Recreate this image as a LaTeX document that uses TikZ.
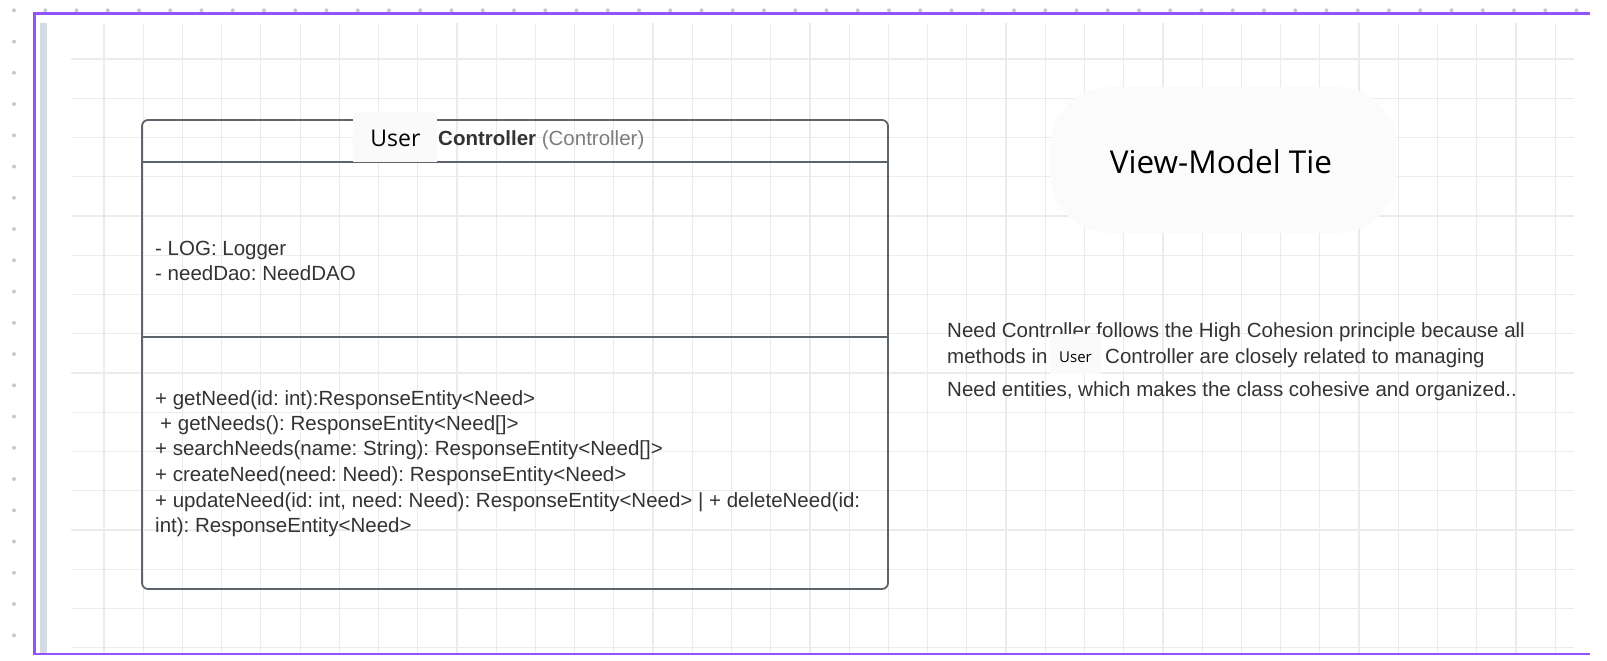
\documentclass[tikz,border=0pt]{standalone}
\usepackage{fontspec}
\setmainfont{Liberation Sans}
\newfontfamily\opensans{Open Sans}
\definecolor{framepurple}{HTML}{9452FF}
\definecolor{sidebar}{HTML}{D3DAE2}
\definecolor{dotgray}{HTML}{C3CAD4}
\definecolor{gridgray}{HTML}{EBEBEB}
\definecolor{umlline}{HTML}{5E646B}
\definecolor{umltext}{HTML}{333333}
\definecolor{parengray}{HTML}{7D7D7D}
\definecolor{patchbg}{HTML}{FAFAFA}
\definecolor{notebg}{HTML}{FBFBFB}
\frenchspacing
\begin{document}
\begin{tikzpicture}[x=1pt,y=-1pt,
    txt/.style={anchor=base west,inner sep=0pt,text=umltext,font=\fontsize{20.5}{24}\selectfont},
    patch/.style={fill=patchbg,inner sep=0pt},
    ]
\useasboundingbox (0,0) rectangle (1607,661);
% canvas
\foreach \k in {0,...,50} \fill[dotgray] (14+31.25*\k,10.3) circle (2pt);
\foreach \k in {1,...,20} \fill[dotgray] (14,10.3+31.25*\k) circle (2pt);
\foreach \k in {0,...,37} \draw[gridgray,line width=1.2pt] (104+39.22*\k,23)--(104+39.22*\k,654);
\foreach \k in {0,...,15} \draw[gridgray,line width=1.2pt] (71,59+39.25*\k)--(1574,59+39.25*\k);
\fill[sidebar] (40,23) rectangle (46.5,654);
\draw[framepurple,line width=2.8pt] (1590,13.8)--(34.8,13.8)--(34.8,654)--(1590,654);
% class box
\node[draw=umlline,line width=1.8pt,rounded corners=6pt,minimum width=746pt,minimum height=469pt,inner sep=0pt] (cls) at (515,354.5) {};
\draw[umlline,line width=1.8pt] (142,162)--(888,162);
\draw[umlline,line width=1.8pt] (142,337)--(888,337);
\node[patch,minimum width=84pt,minimum height=50pt] (hdrpatch) at (395,137) {};
\node[anchor=base,inner sep=0pt,font=\opensans\fontsize{23}{26}\selectfont] (hdruser) at (395.5,146.5) {User};
\node[txt,font=\bfseries\fontsize{20.5}{24}\selectfont] (hdrname) at (438,145) {Controller \textcolor{parengray}{\mdseries(Controller)}};
\foreach \n/\x/\y/\t in {a1/155/255/{- LOG: Logger}, a2/155/280/{- needDao: NeedDAO},
    m1/155/405/{+ getNeed(id: int):ResponseEntity<Need>},
    m2/160/430/{+ getNeeds(): ResponseEntity<Need[]>},
    m3/155/455.5/{+ searchNeeds(name: String): ResponseEntity<Need[]>},
    m4/155/481/{+ createNeed(need: Need): ResponseEntity<Need>},
    m5/155/507/{+ updateNeed(id: int, need: Need): ResponseEntity<Need> | + deleteNeed(id:},
    m6/155/532.5/{int): ResponseEntity<Need>}}
  \node[txt] (\n) at (\x,\y) {\t};
% note
\node[fill=notebg,inner sep=0pt,rounded corners=60pt,minimum width=347pt,minimum height=146pt] (vmt) at (1223.5,160) {};
\node[anchor=base,inner sep=0pt,font=\opensans\fontsize{31.5}{36}\selectfont] (vmtlabel) at (1221,173) {View-Model Tie};
\node[txt] (p1) at (947,337) {Need Controller follows the High Cohesion principle because all};
\node[txt] (p2) at (947,363) {methods in};
\node[patch,minimum width=51pt,minimum height=40pt] (ppatch) at (1075,354) {};
\node[anchor=base,inner sep=0pt,font=\opensans\fontsize{15}{18}\selectfont] (puser) at (1075.5,362) {User};
\node[txt] (p3) at (1105,363) {Controller are closely related to managing};
\node[txt] (p4) at (947,396) {Need entities, which makes the class cohesive and organized..};
\end{tikzpicture}
\end{document}
